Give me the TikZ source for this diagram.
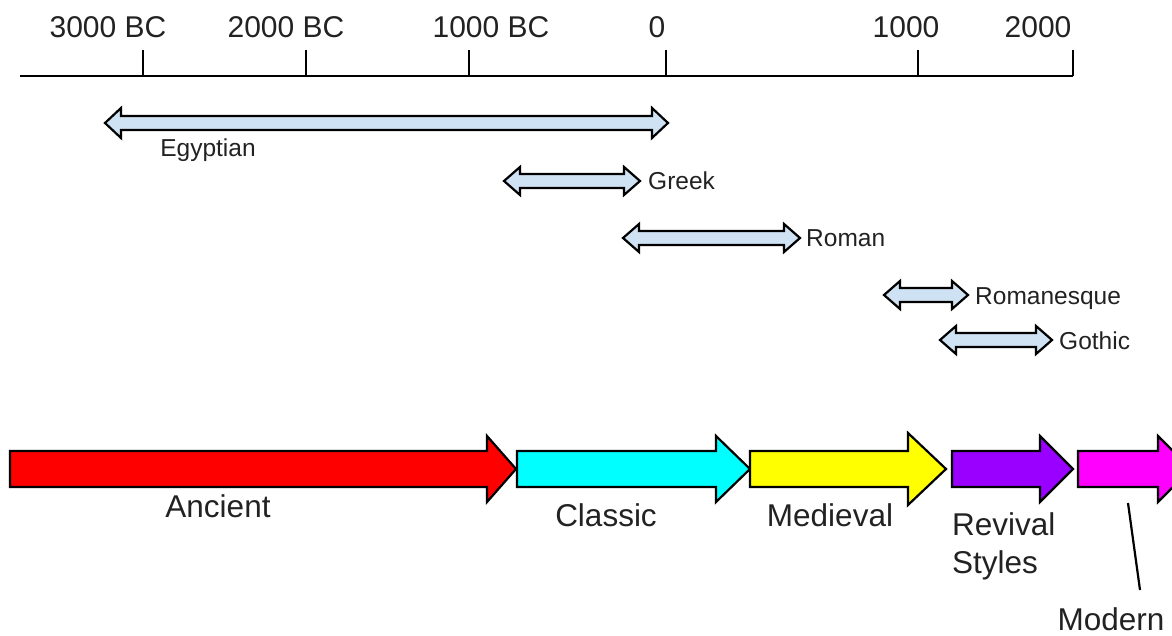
\documentclass[tikz,border=0pt]{standalone}
\usepackage{fontspec}
\setmainfont{Liberation Sans}
\definecolor{periodblue}{HTML}{CFE2F3}
\definecolor{ancientred}{HTML}{FF0000}
\definecolor{classiccyan}{HTML}{00FFFF}
\definecolor{medyellow}{HTML}{FFFF00}
\definecolor{revpurple}{HTML}{9900FF}
\definecolor{modmagenta}{HTML}{FF00FF}
\definecolor{txtgray}{HTML}{222222}
\newcommand\spanarrow[4]{% x1, x2, y, head half height
  \pgfmathsetmacro\spanlen{#2-#1-32}
  \pgfmathsetmacro\headrise{#4-7}
  \draw[spanarrowstyle] (#1,#3) -- ++(16,-#4) -- ++(0,\headrise) -- ++(\spanlen,0) -- ++(0,-\headrise)
    -- ++(16,#4) -- ++(-16,#4) -- ++(0,-\headrise) -- ++(-\spanlen,0) -- ++(0,\headrise) -- cycle;}
\newcommand\erarrow[6]{% x1, head base, tip, colour, head top, head bottom
  \draw[erastyle, fill=#4] (#1,451) -- (#2,451) -- (#2,#5) -- (#3,469) -- (#2,#6) -- (#2,487) -- (#1,487) -- cycle;}
\begin{document}
\begin{tikzpicture}[x=1pt,y=-1pt,
  axisline/.style={line width=2.2pt, black},
  spanarrowstyle/.style={draw=black, line width=2.2pt, fill=periodblue, line join=miter},
  erastyle/.style={draw=black, line width=2.2pt, line join=miter},
  ticklabel/.style={anchor=base, inner sep=0pt, font=\fontsize{30}{36}\selectfont, text=txtgray},
  smalllabel/.style={inner sep=0pt, font=\fontsize{24.5}{29}\selectfont, text=txtgray},
  biglabel/.style={inner sep=0pt, font=\fontsize{31.5}{38}\selectfont, text=txtgray}]
\useasboundingbox (0,0) rectangle (1172,636);
\begin{scope}
\clip (0,0) rectangle (1172,636);
% axis
\draw[axisline] (20,76) -- (1073,76);
\foreach \tx in {143,306,469,666,918,1073} \draw[axisline] (\tx,50) -- (\tx,76);
\node[ticklabel] (t3000bc) at (108,38) {3000 BC};
\node[ticklabel] (t2000bc) at (286,38) {2000 BC};
\node[ticklabel] (t1000bc) at (491,38) {1000 BC};
\node[ticklabel] (t0) at (657,38) {0};
\node[ticklabel] (t1000) at (906,38) {1000};
\node[ticklabel] (t2000) at (1038,38) {2000};
% period spans
\spanarrow{105}{668}{123}{15}
\spanarrow{504}{640}{181}{14}
\spanarrow{623}{800}{238}{14}
\spanarrow{884}{968}{295}{14}
\spanarrow{940}{1052}{340}{14}
\node[smalllabel, anchor=base] (egyptian) at (208,157) {Egyptian};
\node[smalllabel, anchor=base west] (greek) at (648,190) {Greek};
\node[smalllabel, anchor=base west] (roman) at (806,247) {Roman};
\node[smalllabel, anchor=base west] (romanesque) at (975,305) {Romanesque};
\node[smalllabel, anchor=base west] (gothic) at (1059,349) {Gothic};
% eras
\erarrow{10}{487}{516}{ancientred}{436}{502}
\erarrow{517}{716}{750}{classiccyan}{436}{502}
\erarrow{750}{908}{946}{medyellow}{433}{505}
\erarrow{952}{1040}{1073}{revpurple}{436}{502}
\erarrow{1078}{1158}{1191}{modmagenta}{436}{502}
\node[biglabel, anchor=base] (ancient) at (218,517) {Ancient};
\node[biglabel, anchor=base] (classic) at (606,526) {Classic};
\node[biglabel, anchor=base] (medieval) at (830,526) {Medieval};
\node[biglabel, anchor=base west] (revival) at (952,535) {Revival};
\node[biglabel, anchor=base west] (styles) at (952,573) {Styles};
\node[biglabel, anchor=base] (modern) at (1111,630) {Modern};
\coordinate (modtop) at (1128,503);
\coordinate (modbot) at (1140,590);
\draw[line width=2.2pt] (modtop) -- (modbot);
\end{scope}
\end{tikzpicture}
\end{document}
